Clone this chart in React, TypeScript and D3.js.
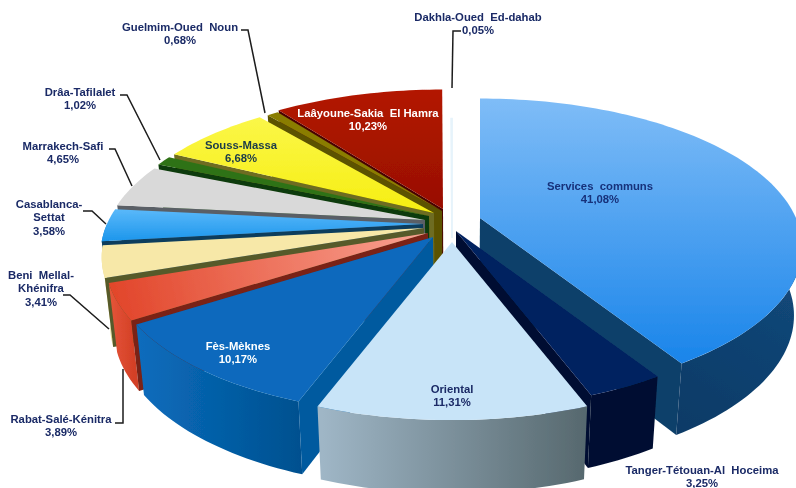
import React from "react";
import * as d3 from "d3";

// ---- data (clockwise from 12 o'clock) ----
const regions = [
  "Services communs", "Tanger-Tétouan-Al Hoceima", "Oriental", "Fès-Mèknes",
  "Rabat-Salé-Kénitra", "Beni Mellal-Khénifra", "Casablanca-Settat", "Marrakech-Safi",
  "Drâa-Tafilalet", "Souss-Massa", "Guelmim-Oued Noun", "Laâyoune-Sakia El Hamra", "Dakhla-Oued Ed-dahab",
];
const shares = [41.08, 3.25, 11.31, 10.17, 3.89, 3.41, 3.58, 4.65, 1.02, 6.68, 0.68, 10.23, 0.05];

// ---- styling & layout ----
const W = 796, H = 488;
const apexX = [480, 456, 452, 433, 428, 424, 423, 425, 429, 434, 442, 443, 452];
const apexY = [218, 231, 242, 237, 233, 228, 224, 220, 216, 213, 211, 209, 238];
const topFill = ["url(#gServ)", "#002060", "#c8e4f8", "#0869bd", "url(#gRed)", "#f7e8a8", "url(#gCasa)", "#d9d9d9", "#2f7216", "url(#gSouss)", "#8a7d00", "url(#gLaa)", "#e6f3fb"];
const wallFill = ["url(#wServ)", "#001033", "url(#wOri)", "url(#wFes)", "url(#wRed)", "#e8d98f", "#1384d8", "#bdbdbd", "#1d5a0c", "#e3dc20", "#6a6000", "#7d0d00", "#d5e6f2"];
const cutFill = ["#11406b", "#000d30", "#7f949f", "#005a9f", "#7a2012", "#565a2a", "#0a3c5c", "#5a5f66", "#0d3a08", "#6e6c20", "#5c5200", "#4a0500", "#d5e6f2"];
const paintOrder = [12, 11, 10, 9, 8, 7, 6, 5, 4, 3, 0, 1, 2];

const labelX = [600, 702, 452, 238, 61, 41, 49, 63, 80, 241, 180, 368, 478];
const labelY = [186, 470, 389, 346, 419, 275, 204, 146, 92, 145, 27, 113, 17];
const labelLines = [
  ["Services  communs"], ["Tanger-Tétouan-Al  Hoceima"], ["Oriental"], ["Fès-Mèknes"],
  ["Rabat-Salé-Kénitra"], ["Beni  Mellal-", "Khénifra"], ["Casablanca-", "Settat"], ["Marrakech-Safi"],
  ["Drâa-Tafilalet"], ["Souss-Massa"], ["Guelmim-Oued  Noun"], ["Laâyoune-Sakia  El Hamra"], ["Dakhla-Oued  Ed-dahab"],
];
const labelColor = ["#17307a", "#1a2a66", "#1a2a66", "#ffffff", "#1a2a66", "#1a2a66", "#1a2a66", "#1a2a66", "#1a2a66", "#1a3a4a", "#1a2a66", "#ffffff", "#1a2a66"];
const leaders = [
  "M241,30 L248,30 L265,113",
  "M120,95 L127,95 L160,160",
  "M109,149 L115,149 L132,186",
  "M83,211 L92,211 L106,224",
  "M63,295 L70,295 L109,329",
  "M115,423 L123,423 L123,369",
  "M461,31 L453,31 L452,88",
];

const R = 316, A = 143, K = 0.197;
const project = (t: number, ax: number, ay: number): [number, number] => {
  const u = Math.sin(t), v = -Math.cos(t), w = 1 / (1 - K * v);
  return [ax + R * u * w, ay + A * v * w];
};
const drop = ([x, y]: [number, number]): [number, number] => [
  455 + (x - 455) * 0.976,
  308 + (y - 240) * 1.03,
];
const line = d3.line<[number, number]>();
const fmt = (v: number) => d3.format(".2f")(v).replace(".", ",");

const arcs = d3.pie<number>().sort(null).startAngle(0).endAngle(2 * Math.PI)(shares);

function Slice({ i }: { i: number }) {
  const a = arcs[i];
  const ax = apexX[i], ay = apexY[i];
  const sample = (t0: number, t1: number): [number, number][] => {
    const n = Math.max(4, Math.ceil((t1 - t0) * 40));
    return d3.range(n + 1).map((k) => project(t0 + ((t1 - t0) * k) / n, ax, ay));
  };
  const top = sample(a.startAngle, a.endAngle);
  const apex: [number, number] = [ax, ay];
  const face = (p: [number, number]) => line([apex, p, drop(p), drop(apex)]) + "Z";
  // the rim only shows on the half of the pie turned towards the viewer
  const w0 = Math.max(a.startAngle, Math.PI / 2), w1 = Math.min(a.endAngle, (3 * Math.PI) / 2);
  const rim = w1 > w0 ? sample(w0, w1) : [];
  const wall = rim.length ? line([...rim, ...rim.slice().reverse().map(drop)]) + "Z" : null;
  const surface = line([apex, ...top]) + "Z";
  const thin = shares[i] < 0.1;
  const startVisible = Math.sin(a.startAngle) < -1e-6;
  const endVisible = Math.sin(a.endAngle) > 1e-6;
  return (
    <g>
      {!thin && wall && <path d={wall} fill={wallFill[i]} />}
      {!thin && startVisible && <path d={face(top[0])} fill={cutFill[i]} />}
      {!thin && endVisible && <path d={face(top[top.length - 1])} fill={cutFill[i]} />}
      <path d={surface} fill={topFill[i]} stroke={thin ? topFill[i] : "none"} strokeWidth={thin ? 1.8 : 0} />
    </g>
  );
}

const grad = (id: string, x1: number, y1: number, x2: number, y2: number, c1: string, c2: string) => (
  <linearGradient id={id} gradientUnits="userSpaceOnUse" x1={x1} y1={y1} x2={x2} y2={y2}>
    <stop offset="0" stopColor={c1} />
    <stop offset="1" stopColor={c2} />
  </linearGradient>
);

export default function App() {
  return (
    <svg width={W} height={H} viewBox={`0 0 ${W} ${H}`}
      style={{ position: "absolute", left: 0, top: 0, background: "#fff" }}
      fontFamily="'Liberation Sans', Arial, sans-serif">
      <defs>
        {grad("gServ", 0, 96, 0, 362, "#80bdf7", "#1a85ea")}
        {grad("wServ", 796, 240, 670, 430, "#144a7c", "#0b3a66")}
        {grad("wOri", 322, 0, 584, 0, "#9fb6c6", "#57696f")}
        {grad("wFes", 140, 0, 302, 0, "#0a6cbc", "#00508f")}
        {grad("gRed", 420, 240, 120, 310, "#f9a090", "#e2472c")}
        {grad("wRed", 105, 0, 135, 0, "#e8593c", "#d33f26")}
        {grad("gCasa", 0, 205, 0, 245, "#62bdfc", "#1592ea")}
        {grad("gSouss", 0, 115, 0, 215, "#fbf74a", "#f6ee10")}
        {grad("gLaa", 0, 88, 0, 215, "#b31600", "#970f00")}
        <filter id="soft" x="-5%" y="-5%" width="110%" height="110%">
          <feGaussianBlur stdDeviation="0.45" />
        </filter>
      </defs>
      <g filter="url(#soft)">
        {paintOrder.map((i) => <Slice key={regions[i]} i={i} />)}
        {leaders.map((d) => (
          <path key={d} d={d} fill="none" stroke="#1c1c1c" strokeWidth={1.5} />
        ))}
        {regions.map((name, i) => {
          const rows = [...labelLines[i], fmt(shares[i]) + "%"];
          return (
            <text key={name} x={labelX[i]} y={labelY[i]} textAnchor="middle" fontSize={11.3}
              fontWeight={700} fill={labelColor[i]} xmlSpace="preserve">
              {rows.map((r, k) => (
                <tspan key={k} x={labelX[i]} y={labelY[i] + 4 + k * 13.4}>{r}</tspan>
              ))}
            </text>
          );
        })}
      </g>
    </svg>
  );
}
